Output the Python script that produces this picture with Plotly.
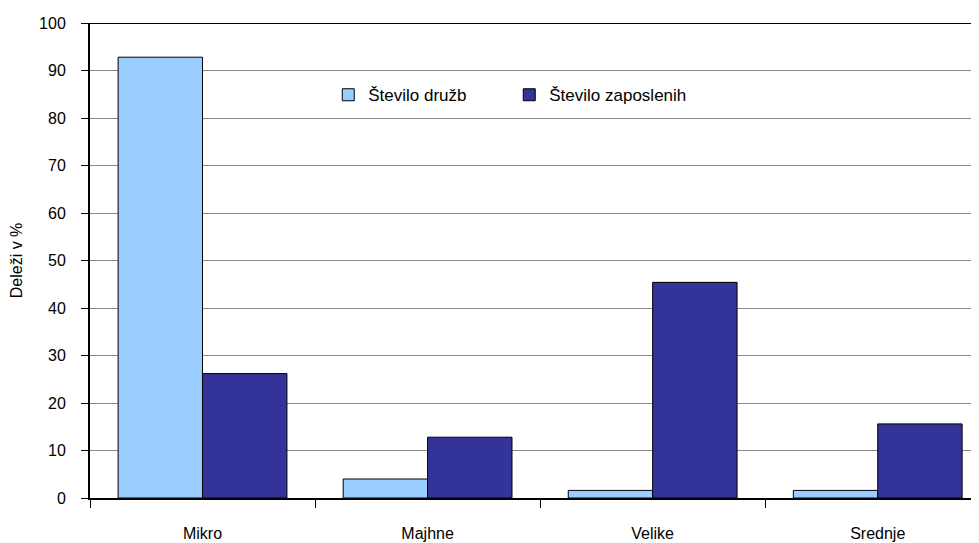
import plotly.graph_objects as go

categories = ["Mikro", "Majhne", "Velike", "Srednje"]
stevilo_druzb = [92.8, 4.0, 1.6, 1.6]
stevilo_zaposlenih = [26.2, 12.8, 45.4, 15.6]
y_ticks = [0, 10, 20, 30, 40, 50, 60, 70, 80, 90, 100]

FONT = "Liberation Sans Narrow, Arial Narrow, Liberation Sans, sans-serif"

fig = go.Figure()
fig.add_trace(go.Bar(x=categories, y=stevilo_druzb, name="Število družb",
                     marker=dict(color="#99CCFF", line=dict(color="black", width=1))))
fig.add_trace(go.Bar(x=categories, y=stevilo_zaposlenih, name="Število zaposlenih",
                     marker=dict(color="#333399", line=dict(color="black", width=1))))

# page body has an 8px default margin, so the figure is sized to fill the rest
fig.update_layout(
    width=971, height=535,
    margin=dict(l=82, r=0, t=15, b=45),
    paper_bgcolor="white", plot_bgcolor="white",
    font=dict(family=FONT, size=16, color="black"),
    barmode="group", bargap=0.25, bargroupgap=0,
    showlegend=True,
    legend=dict(orientation="h", x=0.268, y=0.848, xanchor="left", yanchor="middle",
                font=dict(size=17), entrywidth=136, itemwidth=30,
                bgcolor="rgba(0,0,0,0)", tracegroupgap=0),
    xaxis=dict(range=[-0.5, 3.45], showline=True, linecolor="black", linewidth=2,
               ticks="outside", tickson="boundaries", ticklen=8, tickcolor="black",
               ticklabelstandoff=20, showgrid=False, zeroline=False, automargin=False,
               tickfont=dict(size=16)),
    yaxis=dict(range=[0, 100], tickvals=y_ticks, showline=True, linecolor="black",
               linewidth=2, ticks="outside", ticklen=7, tickcolor="black",
               ticklabelstandoff=12, automargin=False,
               showgrid=True, gridcolor="#888888", gridwidth=1, zeroline=False,
               tickfont=dict(size=16),
               title=dict(text="Deleži v %", font=dict(size=16), standoff=12)),
)
fig.add_shape(type="line", xref="paper", yref="y", x0=0, x1=1, y0=100, y1=100,
              line=dict(color="black", width=2))

fig.write_html("out.html")
